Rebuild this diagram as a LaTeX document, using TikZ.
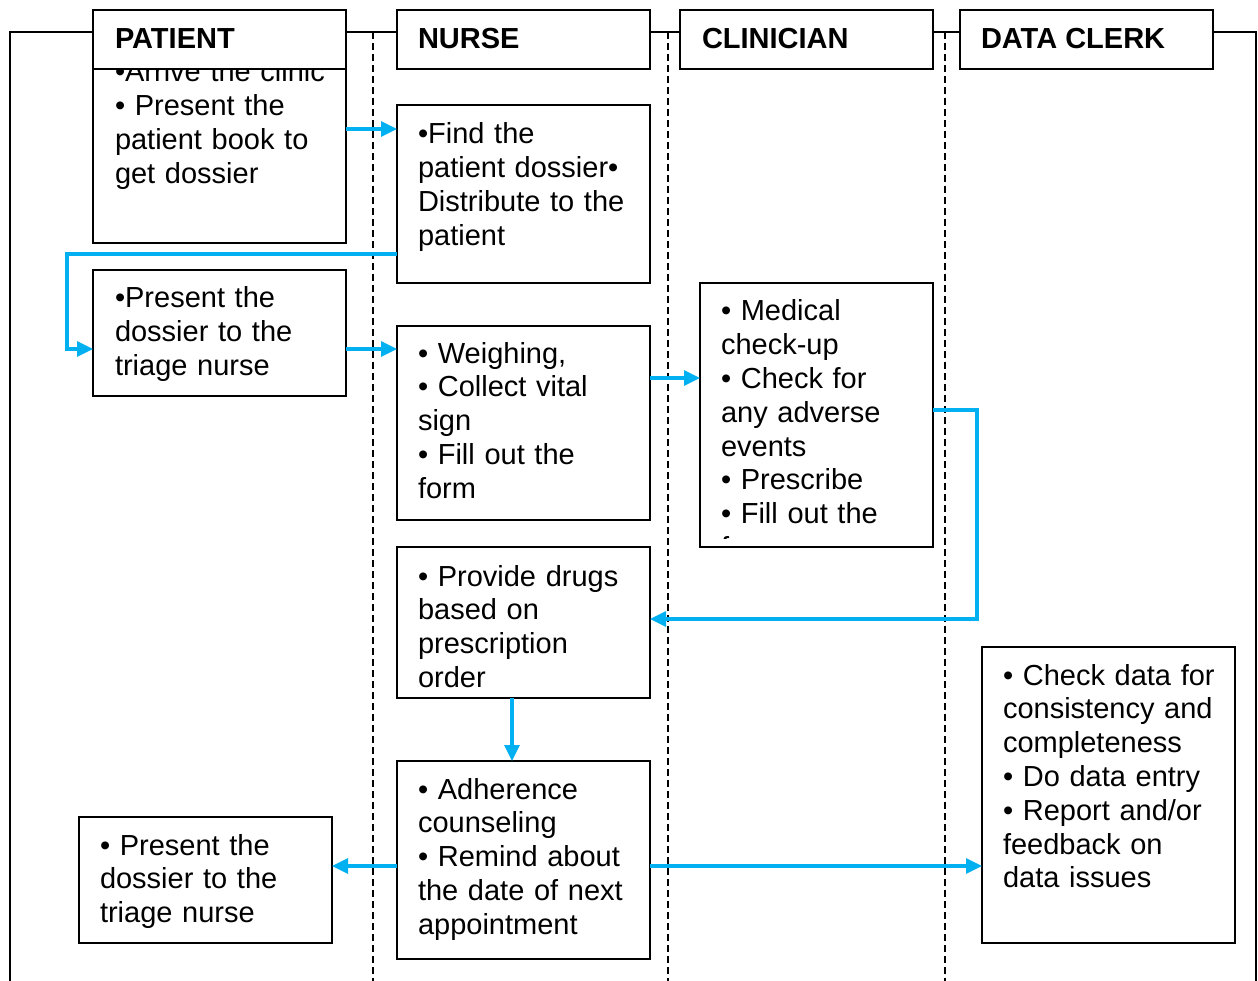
\documentclass[tikz,border=0pt]{standalone}
\usepackage{fontspec}
\setmainfont{Liberation Sans}
\usetikzlibrary{arrows.meta,calc}
\definecolor{flowblue}{RGB}{0,176,240}
\begin{document}
\begin{tikzpicture}[x=1pt,y=-1pt,
  box/.style={draw=black,line width=1.8pt,fill=white,inner sep=0pt,outer sep=0pt,anchor=north west},
  hbox/.style={box},
  txt/.style={inner sep=0pt,outer sep=0pt,anchor=base west,text width=260pt,align=left,
    font=\fontsize{29}{33.8}\selectfont},
  htxt/.style={inner sep=0pt,outer sep=0pt,anchor=base west,font=\fontsize{29}{33.8}\selectfont\bfseries},
  frame/.style={line width=1.5pt,draw=black},
  lane/.style={line width=1.5pt,draw=black,dash pattern=on 7pt off 4pt},
  arr/.style={draw=flowblue,line width=3.2pt,-{Triangle[length=16pt,width=15pt]}}]
\useasboundingbox (0,0) rectangle (1258,981);
\fill[white] (0,0) rectangle (1258,981);
% frame and lanes
\draw[frame] (10,981) -- (10,32) -- (1256,32) -- (1256,981);
\draw[lane] (373,32) -- (373,981);
\draw[lane] (668,32) -- (668,981);
\draw[lane] (945,32) -- (945,981);
% boxes
\node[box,minimum width=253pt,minimum height=199pt] (p1) at (93,44) {};
\node[txt] (p1t) at ($(p1.north west)+(22,38)$) {\textbullet Arrive the clinic\\\textbullet{} Present the\\patient book to\\get dossier};
\node[box,minimum width=253pt,minimum height=178pt] (n1) at (397,105) {};
\node[txt] (n1t) at ($(n1.north west)+(21,39)$) {\textbullet Find the\\patient dossier\textbullet\\Distribute to the\\patient};
\node[box,minimum width=253pt,minimum height=126pt] (p2) at (93,270) {};
\node[txt] (p2t) at ($(p2.north west)+(22,38)$) {\textbullet Present the\\dossier to the\\triage nurse};
\node[box,minimum width=253pt,minimum height=194pt] (n2) at (397,326) {};
\node[txt] (n2t) at ($(n2.north west)+(21,37)$) {\textbullet{} Weighing,\\\textbullet{} Collect vital\\sign\\\textbullet{} Fill out the\\form};
\node[box,minimum width=233pt,minimum height=264pt] (c1) at (700,283) {};
\begin{scope}
\clip ($(c1.north west)+(1,1)$) rectangle ($(c1.south east)+(-1,-9)$);
\node[txt] (c1t) at ($(c1.north west)+(21,38)$) {\textbullet{} Medical\\check-up\\\textbullet{} Check for\\any adverse\\events\\\textbullet{} Prescribe\\\textbullet{} Fill out the\\form};
\end{scope}
\node[box,minimum width=253pt,minimum height=151pt] (n3) at (397,547) {};
\node[txt] (n3t) at ($(n3.north west)+(21,39)$) {\textbullet{} Provide drugs\\based on\\prescription\\order};
\node[box,minimum width=253pt,minimum height=198pt] (n4) at (397,761) {};
\node[txt] (n4t) at ($(n4.north west)+(21,38)$) {\textbullet{} Adherence\\counseling\\\textbullet{} Remind about\\the date of next\\appointment};
\node[box,minimum width=253pt,minimum height=126pt] (p3) at (79,817) {};
\node[txt] (p3t) at ($(p3.north west)+(21,38)$) {\textbullet{} Present the\\dossier to the\\triage nurse};
\node[box,minimum width=253pt,minimum height=296pt] (d1) at (982,647) {};
\node[txt] (d1t) at ($(d1.north west)+(21,38)$) {\textbullet{} Check data for\\consistency and\\completeness\\\textbullet{} Do data entry\\\textbullet{} Report and/or\\feedback on\\data issues};
% headers
\node[hbox,minimum width=253pt,minimum height=59pt] (hp) at (93,10) {};
\node[htxt] at ($(hp.north west)+(22,39)$) {PATIENT};
\node[hbox,minimum width=253pt,minimum height=59pt] (hn) at (397,10) {};
\node[htxt] at ($(hn.north west)+(21,39)$) {NURSE};
\node[hbox,minimum width=253pt,minimum height=59pt] (hc) at (680,10) {};
\node[htxt] at ($(hc.north west)+(22,39)$) {CLINICIAN};
\node[hbox,minimum width=253pt,minimum height=59pt] (hd) at (960,10) {};
\node[htxt] at ($(hd.north west)+(21,39)$) {DATA CLERK};
% connectors
\draw[arr] (p1.east |- 0,129) -- (n1.west |- 0,129);
\coordinate (b1) at (67,254);
\coordinate (b2) at (67,349);
\draw[arr] (n1.west |- b1) -- (b1) -- (b2) -- (p2.west |- b2);
\draw[arr] (p2.east |- 0,349) -- (n2.west |- 0,349);
\draw[arr] (n2.east |- 0,378) -- (c1.west |- 0,378);
\coordinate (b3) at (977,410);
\coordinate (b4) at (977,619);
\draw[arr] (c1.east |- b3) -- (b3) -- (b4) -- (n3.east |- b4);
\draw[arr] (n3.south -| 512,0) -- (n4.north -| 512,0);
\draw[arr] (n4.west |- 0,866) -- (p3.east |- 0,866);
\draw[arr] (n4.east |- 0,866) -- (d1.west |- 0,866);
\end{tikzpicture}
\end{document}
